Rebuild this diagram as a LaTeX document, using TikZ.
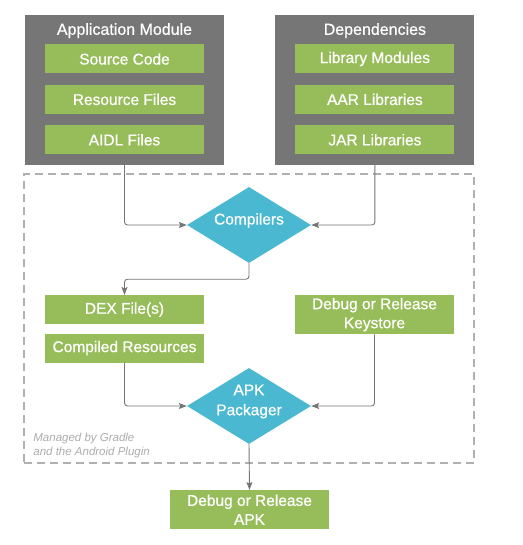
\documentclass[tikz,border=0pt]{standalone}
\usepackage{fontspec}
\setmainfont{Liberation Sans}
\newfontfamily\labelfont{Liberation Sans}[FakeBold=0.6]
\usepackage{tikz}
\usetikzlibrary{shapes.geometric,arrows.meta,positioning,backgrounds}
\definecolor{ModGrey}  {RGB}{118,118,118}
\definecolor{ItemGreen}{RGB}{151,189, 90}
\definecolor{StepCyan} {RGB}{ 74,184,209}
\definecolor{LineGrey} {RGB}{117,117,117}
\definecolor{DashGrey} {RGB}{176,176,176}
\definecolor{NoteGrey} {RGB}{172,172,172}
\tikzset{
  module/.style={
    rectangle, fill=ModGrey, draw=none,
    minimum width=199pt, minimum height=150pt
  },
  header/.style={
    text=white, inner sep=0pt,
    font=\labelfont\fontsize{16}{19}\selectfont
  },
  item/.style={
    rectangle, fill=ItemGreen, draw=none,
    text=white, align=center, inner sep=0pt,
    minimum width=159pt, minimum height=29pt,
    font=\labelfont\fontsize{15.5}{19}\selectfont
  },
  tallitem/.style={item, minimum height=39pt},
  tool/.style={
    diamond, fill=StepCyan, draw=none, inner sep=0pt,
    shape aspect=1.63, minimum width=124pt, minimum height=76pt
  },
  toollabel/.style={
    text=white, align=center, inner sep=0pt, yshift=4.5pt,
    font=\labelfont\fontsize{15.5}{20}\selectfont
  },
  managed/.style={
    rectangle, draw=DashGrey, line width=1.6pt,
    dash pattern=on 8pt off 5pt,
    minimum width=450pt, minimum height=289pt
  },
  note/.style={
    text=NoteGrey, align=left, inner sep=0pt,
    font=\fontsize{11.5}{14}\selectfont\itshape
  },
  flow/.style={-{Stealth[length=8pt,width=6pt,inset=1.5pt]},
               line width=0.9pt, color=LineGrey, rounded corners=3pt}
}

\begin{document}
\begin{tikzpicture}[x=1pt, y=1pt, node distance=11pt]
  \useasboundingbox (0,0) rectangle (522,-545);

  % inputs
  \node[module]                       (app)  at (124.5,-90) {};
  \node[header, anchor=base]          (apph) at ([yshift=-20pt]app.north) {Application Module};
  \node[item, below=29.5pt of app.north] (src)  {Source Code};
  \node[item, below=of src]           (res)  {Resource Files};
  \node[item, below=of res]           (aidl) {AIDL Files};

  \node[module, right=51pt of app]    (deps) {};
  \node[header, anchor=base]          (depsh) at ([yshift=-20pt]deps.north) {Dependencies};
  \node[item, below=29.5pt of deps.north] (lib) {Library Modules};
  \node[item, below=of lib]           (aar)  {AAR Libraries};
  \node[item, below=of aar]           (jar)  {JAR Libraries};

  % build steps
  \node[managed]                      (gradle) at (249,-318.5) {};
  \node[note, above right=6pt and 10pt of gradle.south west] (gnote)
       {Managed by Gradle\\and the Android Plugin};

  \node[tool, label={[toollabel]center:Compilers}]     (comp) at (249,-225) {};
  \node[item, anchor=north]           (dex)  at (124.5,-295) {DEX File(s)};
  \node[item, below=9pt of dex]       (cres) {Compiled Resources};
  \node[tallitem, anchor=north]       (keys) at (374.5,-295) {Debug or Release\\Keystore};
  \node[tool, label={[toollabel]center:APK\\Packager}] (pack) at (249,-406) {};
  \node[tallitem, anchor=north]       (out)  at (249.5,-490) {Debug or Release\\APK};

  \foreach \a/\b in {app.south/comp.west, deps.south/comp.east,
                     cres.south/pack.west, keys.south/pack.east}
    \draw[flow] (\a) |- (\b);
  \draw[flow] (comp.south) -- ++(0,-16) -| (dex.north);
  \draw[flow] (pack.south) -- (out.north);
\end{tikzpicture}
\end{document}
